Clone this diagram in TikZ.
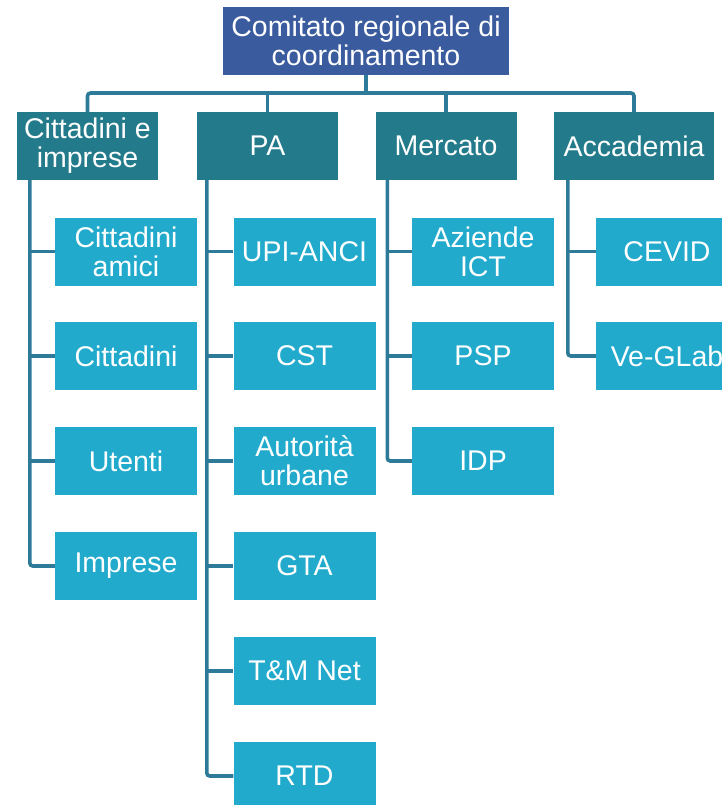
\documentclass[tikz,border=0pt]{standalone}
\usepackage{fontspec}
\setmainfont{Liberation Sans}
\definecolor{topc}{HTML}{3A5C9E}
\definecolor{midc}{HTML}{237A8A}
\definecolor{leafc}{HTML}{21AACC}
\definecolor{connc}{HTML}{2D7B98}
\begin{document}
\begin{tikzpicture}[x=1pt,y=1pt,
  box/.style={rectangle, inner sep=0pt, align=center, text=white,
    font=\fontsize{28.5}{29}\selectfont, minimum height=68pt},
  topbox/.style={box, fill=topc, minimum width=286pt},
  midbox/.style={box, fill=midc, minimum width=141pt},
  leafbox/.style={box, fill=leafc, minimum width=142pt},
  conn/.style={draw=connc, line width=3.6pt, rounded corners=3pt}]
\clip (0,0) rectangle (722,-805);
\fill[white] (0,0) rectangle (722,-805);
% top
\node[topbox] (top) at (366,-41) {Comitato regionale di\\coordinamento};
% level 2
\node[midbox] (cit) at (87.5,-146) {Cittadini e\\imprese};
\node[midbox] (pa) at (267.5,-146) {PA};
\node[midbox] (mer) at (446,-146) {Mercato};
\node[midbox, minimum width=160pt] (acc) at (634,-146) {Accademia};
% leaves col 1
\node[leafbox] (cam) at (126,-251.5) {Cittadini\\amici};
\node[leafbox] (ctd) at (126,-356) {Cittadini};
\node[leafbox] (ute) at (126,-461) {Utenti};
\node[leafbox] (imp) at (126,-566) {Imprese};
% col 2
\node[leafbox] (upi) at (304.5,-251.5) {UPI-ANCI};
\node[leafbox] (cst) at (304.5,-356) {CST};
\node[leafbox] (aut) at (304.5,-461) {Autorità\\urbane};
\node[leafbox] (gta) at (304.5,-566) {GTA};
\node[leafbox] (tmn) at (304.5,-671) {T\&M Net};
\node[leafbox] (rtd) at (304.5,-776) {RTD};
% col 3
\node[leafbox] (azi) at (483,-251.5) {Aziende\\ICT};
\node[leafbox] (psp) at (483,-356) {PSP};
\node[leafbox] (idp) at (483,-461) {IDP};
% col 4
\node[leafbox] (cev) at (667,-251.5) {CEVID};
\node[leafbox] (veg) at (667,-356) {Ve-GLab};
% top connectors
\coordinate (bus) at (366,-93);
\draw[conn] (top.south) -- (bus);
\draw[conn] (cit.north) |- (bus) -| (acc.north);
\draw[conn] (pa.north) -- (pa.north |- bus);
\draw[conn] (mer.north) -- (mer.north |- bus);
% column connectors
\coordinate (l1) at ([xshift=13pt]cit.south west);
\coordinate (l2) at ([xshift=10pt]pa.south west);
\coordinate (l3) at ([xshift=12pt]mer.south west);
\coordinate (l4) at ([xshift=14pt]acc.south west);
\draw[conn] (l1) |- (imp.west);
\foreach \n in {cam,ctd,ute} \draw[conn] (l1 |- \n.west) -- (\n.west);
\draw[conn] (l2) |- (rtd.west);
\foreach \n in {upi,cst,aut,gta,tmn} \draw[conn] (l2 |- \n.west) -- (\n.west);
\draw[conn] (l3) |- (idp.west);
\foreach \n in {azi,psp} \draw[conn] (l3 |- \n.west) -- (\n.west);
\draw[conn] (l4) |- (veg.west);
\draw[conn] (l4 |- cev.west) -- (cev.west);
\end{tikzpicture}
\end{document}
